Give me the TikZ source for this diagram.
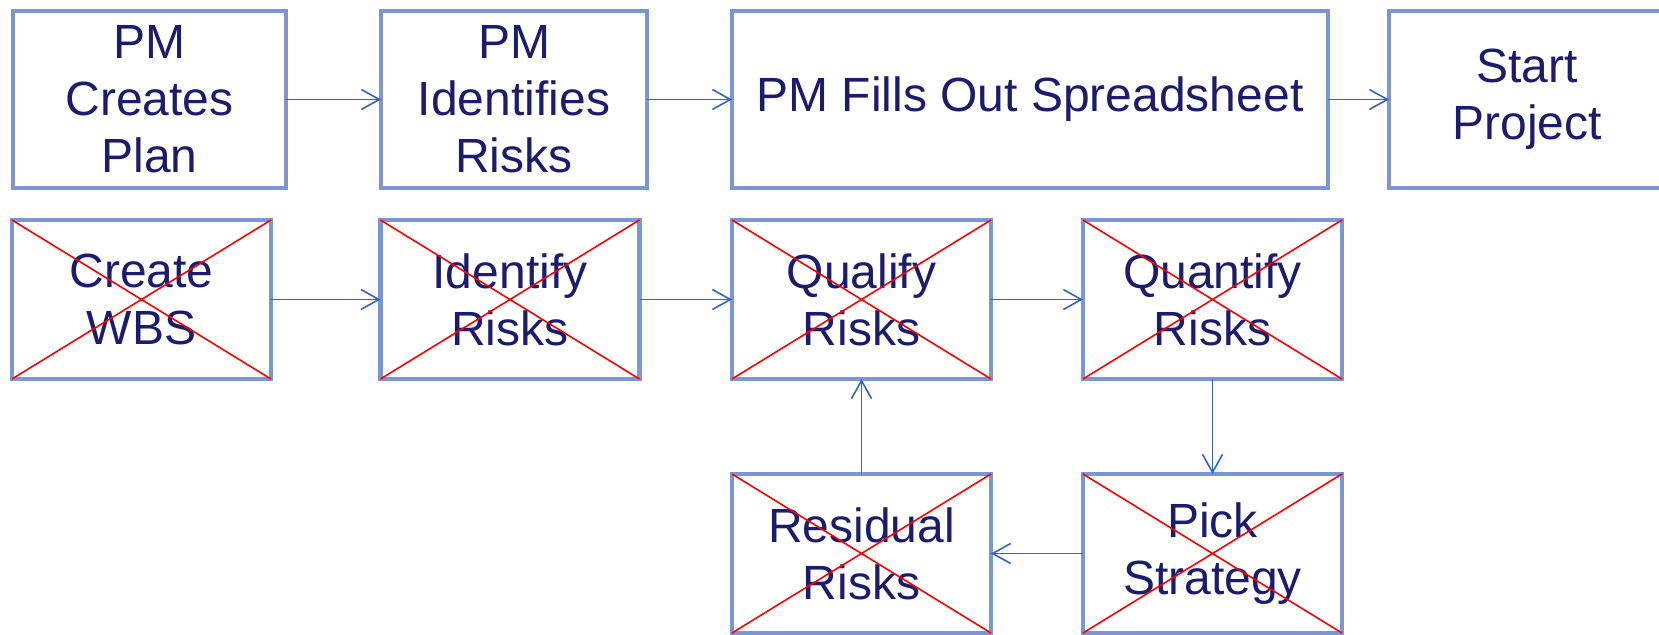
\documentclass[tikz,border=0pt]{standalone}
\usepackage{fontspec}
\setmainfont{Liberation Sans}
\usetikzlibrary{arrows.meta}
\definecolor{boxblue}{RGB}{122,150,214}
\definecolor{navy}{RGB}{27,27,112}
\definecolor{flowblue}{RGB}{48,100,208}
\tikzset{
  stepbox/.style={draw=boxblue, line width=2.4pt, outer sep=0pt, inner sep=0pt,
    align=center, text=navy, font=\fontsize{24}{28.5}\selectfont},
  toprow/.style={stepbox, minimum height=88.5pt},
  lowrow/.style={stepbox, minimum height=79.5pt, minimum width=129.5pt},
  flow/.style={draw=flowblue, line width=0.8pt, -{Straight Barb[length=9pt,width=10pt]}},
  cross/.style={red, line width=0.8pt},
}
\begin{document}
\begin{tikzpicture}[x=0.5pt,y=-0.5pt]
\useasboundingbox (0,0) rectangle (1659,635);

% planned process
\node[toprow, minimum width=136.5pt] (plan)  at (149.5,99.5) {PM\\Creates\\Plan};
\node[toprow, minimum width=133pt]   (ident) at (514,99.5)   {PM\\Identifies\\Risks};
\node[toprow, minimum width=298pt]   (sheet) at (1030,99.5)  {PM Fills Out Spreadsheet};
\node[toprow, minimum width=138pt]   (start) at (1527,99.5)  {Start\\Project};

% replaced process
\node[lowrow] (wbs)   at (141.5,299.5) {Create\\WBS};
\node[lowrow] (idr)   at (510,299.5)   {Identify\\Risks};
\node[lowrow] (qual)  at (861.5,299.5) {Qualify\\Risks};
\node[lowrow] (quant) at (1212.5,299.5){Quantify\\Risks};
\node[lowrow] (resid) at (861.5,553.5) {Residual\\Risks};
\node[lowrow] (pick)  at (1212.5,553.5){Pick\\Strategy};

% connectors
\draw[flow] (plan.east)  -- (ident.west);
\draw[flow] (ident.east) -- (sheet.west);
\draw[flow] (sheet.east) -- (start.west);
\draw[flow] (wbs.east)   -- (idr.west);
\draw[flow] (idr.east)   -- (qual.west);
\draw[flow] (qual.east)  -- (quant.west);
\draw[flow] (quant.south) -- (pick.north);
\draw[flow] (pick.west)  -- (resid.east);
\draw[flow] (resid.north) -- (qual.south);

% crossed-out steps
\foreach \n in {wbs,idr,qual,quant,resid,pick}{
  \draw[cross] (\n.north west) -- (\n.south east) (\n.south west) -- (\n.north east);
}
\end{tikzpicture}
\end{document}
